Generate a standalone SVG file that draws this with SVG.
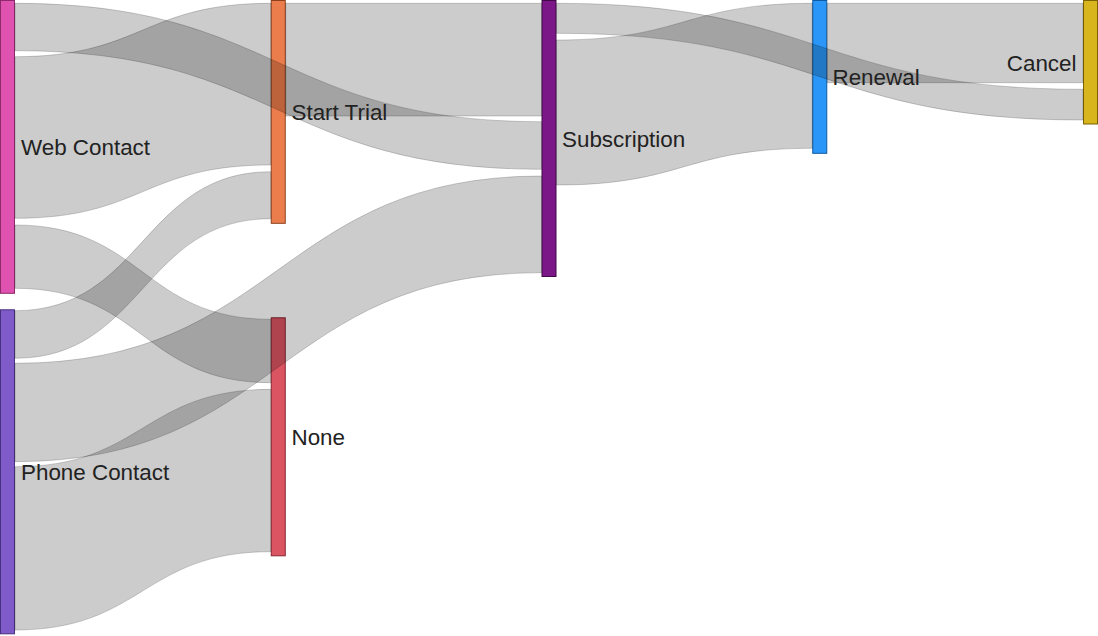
<svg xmlns="http://www.w3.org/2000/svg" width="1098" height="636" viewBox="0 0 1098 636">
<style>
.node rect{stroke-width:1}
.link{fill:rgba(0,0,0,0.2);stroke:rgba(0,0,0,0.18);stroke-width:1}
.lbl{font-family:"Liberation Sans",Arial,sans-serif;font-size:22.4px;fill:#222}
</style>
<rect width="1098" height="636" fill="#fff"/>
<g id="node-web-contact" class="node"><rect x="0.5" y="0.5" width="14" height="292.8" fill="#E052B0" stroke="#8E2A6C"/></g>
<g id="node-phone-contact" class="node"><rect x="0.5" y="309.8" width="14" height="324" fill="#7E5BC8" stroke="#48307E"/></g>
<g id="node-start-trial" class="node"><rect x="271.25" y="0.5" width="14" height="222.8" fill="#EB7C4C" stroke="#8D401C"/></g>
<g id="node-none" class="node"><rect x="271.25" y="317.8" width="14" height="238" fill="#DB5462" stroke="#872530"/></g>
<g id="node-subscription" class="node"><rect x="542" y="0.5" width="14" height="276" fill="#7B1786" stroke="#400A48"/></g>
<g id="node-renewal" class="node"><rect x="812.75" y="0.5" width="14" height="152.8" fill="#2A96F7" stroke="#0F5AA0"/></g>
<g id="node-cancel" class="node"><rect x="1083.5" y="0.5" width="14" height="123.5" fill="#D8B51C" stroke="#7A6200"/></g>
<g id="connectors">
<path class="link" d="M15,56.7 C142.9,56.7 142.9,3.3 270.75,3.3 L270.75,165 C142.9,165 142.9,218.3 15,218.3 Z"/>
<path class="link" d="M15,3.3 C278.25,3.3 278.25,121.7 541.5,121.7 L541.5,169.3 C278.25,169.3 278.25,50.7 15,50.7 Z"/>
<path class="link" d="M15,225 C142.9,225 142.9,319.3 270.75,319.3 L270.75,382.7 C142.9,382.7 142.9,288.3 15,288.3 Z"/>
<path class="link" d="M15,310.7 C142.9,310.7 142.9,171.7 270.75,171.7 L270.75,218.7 C142.9,218.7 142.9,358.3 15,358.3 Z"/>
<path class="link" d="M15,363.3 C278.25,363.3 278.25,176 541.5,176 L541.5,272.7 C278.25,272.7 278.25,461.7 15,461.7 Z"/>
<path class="link" d="M15,466.7 C142.9,466.7 142.9,389.3 270.75,389.3 L270.75,551.7 C142.9,551.7 142.9,630 15,630 Z"/>
<path class="link" d="M285.75,3.3 C413.6,3.3 413.6,3.3 541.5,3.3 L541.5,116 C413.6,116 413.6,116 285.75,116 Z"/>
<path class="link" d="M556.5,40 C684.4,40 684.4,3.3 812.25,3.3 L812.25,148.3 C684.4,148.3 684.4,185 556.5,185 Z"/>
<path class="link" d="M556.5,3.3 C819.75,3.3 819.75,89.3 1083,89.3 L1083,120 C819.75,120 819.75,33.3 556.5,33.3 Z"/>
<path class="link" d="M827.25,3.3 C955.1,3.3 955.1,3.3 1083,3.3 L1083,82.7 C955.1,82.7 955.1,82.7 827.25,82.7 Z"/>
</g>
<g id="labels">
<text class="lbl" x="21" y="154.5">Web Contact</text>
<text class="lbl" x="21" y="480">Phone Contact</text>
<text class="lbl" x="291.5" y="119.5">Start Trial</text>
<text class="lbl" x="291.5" y="445">None</text>
<text class="lbl" x="562" y="146.5">Subscription</text>
<text class="lbl" x="832.5" y="85">Renewal</text>
<text class="lbl" x="1076.5" y="70.5" text-anchor="end">Cancel</text>
</g>
</svg>
